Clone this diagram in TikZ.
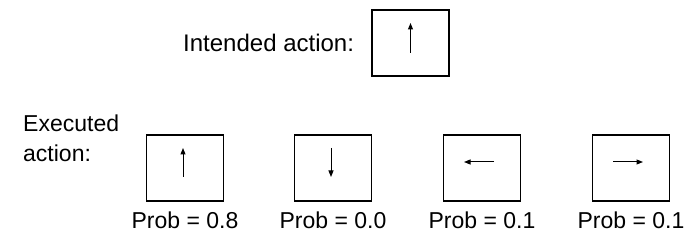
\documentclass[tikz,border=0pt]{standalone}
\usepackage{fontspec}
\setmainfont{Liberation Sans}
\usetikzlibrary{arrows.meta,calc}
\begin{document}
\begin{tikzpicture}[x=1pt,y=-1pt,
  actbox/.style={draw,line width=1.2pt,minimum width=77pt,minimum height=66pt,inner sep=0pt},
  lbl/.style={font=\fontsize{23}{31}\selectfont,inner sep=0pt},
  dirarrow/.style={line width=1pt,-{Triangle[length=6.5pt,width=5pt]}}]
\useasboundingbox (0,0) rectangle (691,243);
% intended action
\node[actbox] (ia) at (410.5,43) {};
\node[lbl,font=\fontsize{24}{31}\selectfont,anchor=base west] (ialbl) at (183,52) {Intended action:};
\coordinate (iaA) at ($(ia.center)+(0,10)$);
\coordinate (iaB) at ($(ia.center)+(0,-20)$);
\draw[dirarrow] (iaA) -- (iaB);
% executed actions
\node[lbl,anchor=base west,align=left] (exlbl) at (23,162) {Executed\\action:};
\node[actbox] (e1) at (185,168) {};
\node[actbox] (e2) at (333,168) {};
\node[actbox] (e3) at (482,168) {};
\node[actbox] (e4) at (631,168) {};
\coordinate (e1A) at ($(e1.center)+(-2,9)$);
\coordinate (e1B) at ($(e1.center)+(-2,-20)$);
\draw[dirarrow] (e1A) -- (e1B);
\coordinate (e2A) at ($(e2.center)+(-2,-20)$);
\coordinate (e2B) at ($(e2.center)+(-2,9)$);
\draw[dirarrow] (e2A) -- (e2B);
\coordinate (e3A) at ($(e3.center)+(12,-6)$);
\coordinate (e3B) at ($(e3.center)+(-18,-6)$);
\draw[dirarrow] (e3A) -- (e3B);
\coordinate (e4A) at ($(e4.center)+(-18,-6)$);
\coordinate (e4B) at ($(e4.center)+(12,-6)$);
\draw[dirarrow] (e4A) -- (e4B);
\node[lbl,anchor=base] (p1) at (185,228) {Prob = 0.8};
\node[lbl,anchor=base] (p2) at (333,228) {Prob = 0.0};
\node[lbl,anchor=base] (p3) at (482,228) {Prob = 0.1};
\node[lbl,anchor=base] (p4) at (631,228) {Prob = 0.1};
\end{tikzpicture}
\end{document}
